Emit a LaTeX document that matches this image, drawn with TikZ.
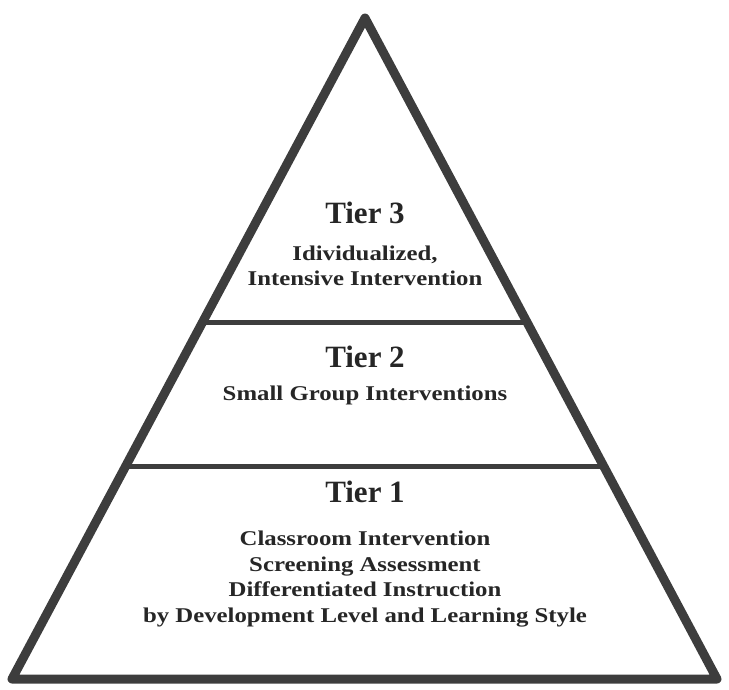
\documentclass[tikz,border=0pt]{standalone}
\usepackage{fontspec}
\setmainfont{Liberation Serif}
\newfontfamily\widefont{Liberation Serif}[FakeStretch=1.18]
\usetikzlibrary{calc}
\definecolor{edgegray}{HTML}{3D3D3D}
\definecolor{inkgray}{HTML}{262626}
\begin{document}
\begin{tikzpicture}[x=1pt,y=-1pt,
  outline/.style={draw=edgegray,line width=9pt,line join=round},
  divider/.style={draw=edgegray,line width=5pt},
  tiername/.style={font=\fontsize{31}{33}\selectfont\bfseries,text=inkgray},
  tiertext/.style={font=\fontsize{21}{25.5}\widefont\bfseries,text=inkgray,align=center}]
\useasboundingbox (0,0) rectangle (729,689);
\coordinate (top) at (365,18);
\coordinate (bl)  at (12,679);
\coordinate (br)  at (717,679);
\coordinate (l3) at ($(top)!0.46!(bl)$);
\coordinate (r3) at ($(top)!0.46!(br)$);
\coordinate (l2) at ($(top)!0.678!(bl)$);
\coordinate (r2) at ($(top)!0.678!(br)$);
\draw[outline] (top) -- (bl) -- (br) -- cycle;
\draw[divider] (l3) -- (r3);
\draw[divider] (l2) -- (r2);
% tier 3
\node[tiername] (t3)  at (365,213) {Tier 3};
\node[tiertext] (t3b) at (365,266) {Idividualized,\\Intensive Intervention};
% tier 2
\node[tiername] (t2)  at (365,357) {Tier 2};
\node[tiertext] (t2b) at (365,395) {Small Group Interventions};
% tier 1
\node[tiername] (t1)  at (365,492) {Tier 1};
\node[tiertext] (t1b) at (365,579) {Classroom Intervention\\Screening Assessment\\Differentiated Instruction\\by Development Level and Learning Style};
\end{tikzpicture}
\end{document}
